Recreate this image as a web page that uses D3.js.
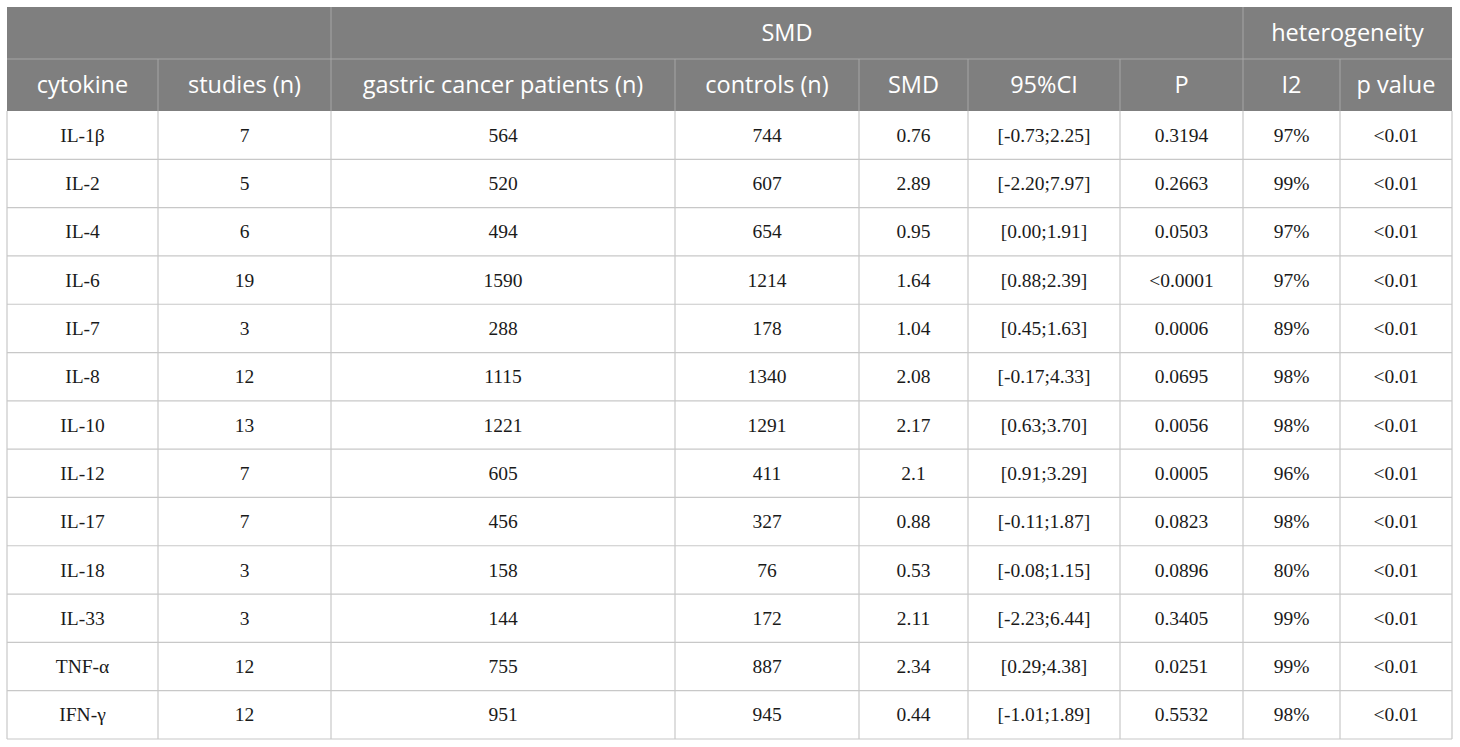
<!DOCTYPE html>
<html>
<head>
<meta charset="utf-8">
<script src="https://cdn.jsdelivr.net/npm/d3@7"></script>
<style>
  html, body { margin: 0; padding: 0; background: #fff; }
</style>
</head>
<body>
<div class="table"></div>
<script>
const cytokines = ["IL-1β", "IL-2", "IL-4", "IL-6", "IL-7", "IL-8", "IL-10", "IL-12", "IL-17", "IL-18", "IL-33", "TNF-α", "IFN-γ"];
const studies = [7, 5, 6, 19, 3, 12, 13, 7, 7, 3, 3, 12, 12];
const patients = [564, 520, 494, 1590, 288, 1115, 1221, 605, 456, 158, 144, 755, 951];
const controls = [744, 607, 654, 1214, 178, 1340, 1291, 411, 327, 76, 172, 887, 945];
const smd = ["0.76", "2.89", "0.95", "1.64", "1.04", "2.08", "2.17", "2.1", "0.88", "0.53", "2.11", "2.34", "0.44"];
const ci = ["[-0.73;2.25]", "[-2.20;7.97]", "[0.00;1.91]", "[0.88;2.39]", "[0.45;1.63]", "[-0.17;4.33]",
    "[0.63;3.70]", "[0.91;3.29]", "[-0.11;1.87]", "[-0.08;1.15]", "[-2.23;6.44]", "[0.29;4.38]", "[-1.01;1.89]"];
const pValues = ["0.3194", "0.2663", "0.0503", "<0.0001", "0.0006", "0.0695", "0.0056", "0.0005", "0.0823", "0.0896", "0.3405", "0.0251", "0.5532"];
const i2 = ["97%", "99%", "97%", "97%", "89%", "98%", "98%", "96%", "98%", "80%", "99%", "99%", "98%"];
const hetP = ["<0.01", "<0.01", "<0.01", "<0.01", "<0.01", "<0.01", "<0.01", "<0.01", "<0.01", "<0.01", "<0.01", "<0.01", "<0.01"];

const columns = ["cytokine", "studies (n)", "gastric cancer patients (n)", "controls (n)", "SMD", "95%CI", "P", "I2", "p value"];
const groups = [
    { label: "", from: 0, to: 2 },
    { label: "SMD", from: 2, to: 7 },
    { label: "heterogeneity", from: 7, to: 9 }
];

const svgWidth = 1460;
const svgHeight = 747;
// column edges (layout)
const edges = [7, 158, 331, 675, 859, 968, 1120, 1243, 1340, 1452];
const tableTop = 7, head1 = 59, head2 = 111, tableBottom = 739;
const headFill = "#7f7f7f";
const headLine = "#a6a6a6";
const gridLine = "#c8c8c8";

const rows = cytokines.map((c, i) => [c, studies[i], patients[i], controls[i], smd[i], ci[i], pValues[i], i2[i], hetP[i]]);

const svg = d3.select(".table")
    .append("svg")
    .attr("width", svgWidth)
    .attr("height", svgHeight);

const y = d3.scaleBand()
    .domain(cytokines)
    .range([head2, tableBottom]);

const colMid = i => (edges[i] + edges[i + 1]) / 2;

// header background
svg.append("rect")
    .attr("x", edges[0]).attr("y", tableTop)
    .attr("width", edges[9] - edges[0]).attr("height", head2 - tableTop)
    .attr("fill", headFill);

// header group row
svg.selectAll("text.group")
    .data(groups)
    .join("text")
    .attr("class", "group")
    .attr("x", d => (edges[d.from] + edges[d.to]) / 2)
    .attr("y", (tableTop + head1) / 2)
    .attr("dy", "0.36em")
    .attr("text-anchor", "middle")
    .attr("fill", "#fff")
    .style("font-family", "'Open Sans'")
    .style("font-size", "23.5px")
    .text(d => d.label);

svg.selectAll("line.gsep")
    .data(groups.slice(1))
    .join("line")
    .attr("class", "gsep")
    .attr("x1", d => edges[d.from]).attr("x2", d => edges[d.from])
    .attr("y1", tableTop).attr("y2", head1)
    .attr("stroke", headLine).attr("stroke-width", 1);

svg.append("line")
    .attr("x1", edges[0]).attr("x2", edges[9])
    .attr("y1", head1).attr("y2", head1)
    .attr("stroke", headLine).attr("stroke-width", 1);

// column header row
svg.selectAll("text.col")
    .data(columns)
    .join("text")
    .attr("class", "col")
    .attr("x", (d, i) => colMid(i))
    .attr("y", (head1 + head2) / 2)
    .attr("dy", "0.36em")
    .attr("text-anchor", "middle")
    .attr("fill", "#fff")
    .style("font-family", "'Open Sans'")
    .style("font-size", "23.5px")
    .text(d => d);

svg.selectAll("line.hsep")
    .data(edges.slice(1, 9))
    .join("line")
    .attr("class", "hsep")
    .attr("x1", d => d).attr("x2", d => d)
    .attr("y1", head1).attr("y2", head2)
    .attr("stroke", headLine).attr("stroke-width", 1);

// body grid
svg.selectAll("line.rsep")
    .data(cytokines.slice(1))
    .join("line")
    .attr("class", "rsep")
    .attr("x1", edges[0]).attr("x2", edges[9])
    .attr("y1", d => y(d)).attr("y2", d => y(d))
    .attr("stroke", gridLine).attr("stroke-width", 1.2);

svg.selectAll("line.csep")
    .data(edges)
    .join("line")
    .attr("class", "csep")
    .attr("x1", d => d).attr("x2", d => d)
    .attr("y1", head2).attr("y2", tableBottom)
    .attr("stroke", gridLine).attr("stroke-width", 1.2);

svg.append("line")
    .attr("x1", edges[0]).attr("x2", edges[9])
    .attr("y1", tableBottom).attr("y2", tableBottom)
    .attr("stroke", gridLine).attr("stroke-width", 1.2);

// body cells
const rowG = svg.selectAll("g.row")
    .data(rows)
    .join("g")
    .attr("class", "row")
    .attr("transform", d => `translate(0,${y(d[0]) + y.bandwidth() / 2})`);

rowG.selectAll("text")
    .data(d => d)
    .join("text")
    .attr("x", (d, i) => colMid(i))
    .attr("dy", "0.34em")
    .attr("text-anchor", "middle")
    .attr("fill", "#1a1a1a")
    .style("font-family", "'Liberation Serif'")
    .style("font-size", "19.5px")
    .text(d => d);
</script>
</body>
</html>
